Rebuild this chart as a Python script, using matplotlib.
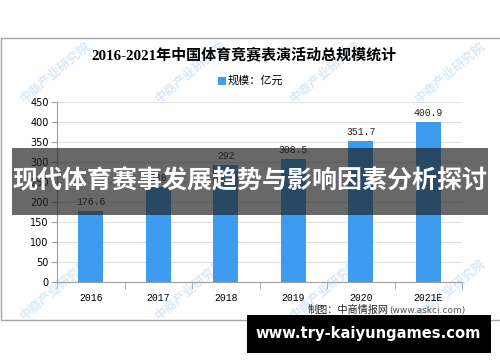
import matplotlib.pyplot as plt
from matplotlib.patches import Rectangle

plt.rcParams['font.family'] = ['DejaVu Sans', 'Noto Sans CJK SC']

years = ['2016', '2017', '2018', '2019', '2020', '2021E']
scale = [176.6, 238.0, 292, 308.5, 351.7, 400.9]
labels = ['176.6', '238', '292', '308.5', '351.7', '400.9']
yticks = [0, 50, 100, 150, 200, 250, 300, 350, 400, 450]

fig = plt.figure(figsize=(5, 3.62), dpi=100)

# chart frame
frame = Rectangle((0.002, 0.116), 1.2, 0.779, transform=fig.transFigure,
                  facecolor='white', edgecolor='#a6a6a6', lw=1, zorder=-1)
fig.patches.append(frame)

# faint watermarks
for wx in [0.11, 0.38, 0.65, 0.9]:
    for wy in [0.80, 0.20]:
        fig.text(wx, wy, '中商产业研究院', rotation=40, color='#d9e9f7',
                 fontsize=9, fontweight='bold', ha='center', va='center',
                 family=['Noto Sans CJK SC'], zorder=0.5)

ax = fig.add_axes([0.114, 0.221, 0.81, 0.497])
ax.set_zorder(2)
ax.patch.set_alpha(0)
x = range(len(years))
ax.bar(x, scale, width=0.37, color='#3d9cf0', zorder=3)
for i, (v, t) in enumerate(zip(scale, labels)):
    ax.text(i, v + 10, t, ha='center', va='bottom', fontsize=7, color='#222222',
            family=['Liberation Mono'], zorder=4)

ax.set_xlim(-0.5, 5.5)
ax.set_ylim(0, 450)
ax.set_yticks(yticks)
ax.set_yticklabels([str(v) for v in yticks], fontsize=7)
ax.set_xticks(list(x))
ax.set_xticklabels(years, fontsize=7, family=['Liberation Mono'])
ax.tick_params(axis='x', length=0, pad=8)
ax.tick_params(axis='y', length=4, color='#a0a0a0', pad=2)
ax.set_xticks([i - 0.5 for i in range(7)], minor=True)
ax.tick_params(axis='x', which='minor', length=5, color='#a0a0a0')
ax.grid(axis='y', color='#e0e0e0', lw=0.8, zorder=0)
for s in ['top', 'right']:
    ax.spines[s].set_visible(False)
for s in ['left', 'bottom']:
    ax.spines[s].set_color('#a0a0a0')

# title and legend
fig.text(0.488, 0.848, '2016-2021年中国体育竞赛表演活动总规模统计', ha='center', va='center',
         fontsize=10.8, fontweight='bold', family=['Liberation Serif', 'Noto Sans CJK SC'])
fig.patches.append(Rectangle((0.436, 0.765), 0.016, 0.022, transform=fig.transFigure,
                             facecolor='#3d9cf0', edgecolor='none', zorder=3))
fig.text(0.456, 0.776, '规模：亿元', ha='left', va='center', fontsize=8,
         family=['Noto Sans CJK SC'])

# source
fig.text(0.778, 0.143, '制图：中商情报网', ha='right', va='center', fontsize=7.3,
         family=['Noto Sans CJK SC'], color='#222222')
fig.text(0.778, 0.143, '(www.askci.com)', ha='left', va='center', fontsize=6.5,
         color='#555555')

# overlay banner
fig.patches.append(Rectangle((0.024, 0.406), 0.952, 0.185, transform=fig.transFigure,
                             facecolor='#202020', alpha=0.68, edgecolor='none', zorder=10))
fig.text(0.5, 0.499, '现代体育赛事发展趋势与影响因素分析探讨', ha='center', va='center',
         fontsize=18, fontweight='bold', color='white', family=['Noto Sans CJK SC'], zorder=11)

# footer box
fig.patches.append(Rectangle((0.494, 0.025), 0.488, 0.105, transform=fig.transFigure,
                             facecolor='black', edgecolor='none', zorder=10))
fig.text(0.736, 0.078, 'www.try-kaiyungames.com', ha='center', va='center',
         fontsize=10.6, fontweight='bold', color='white', zorder=11)

fig.savefig('out.png', dpi=100)
